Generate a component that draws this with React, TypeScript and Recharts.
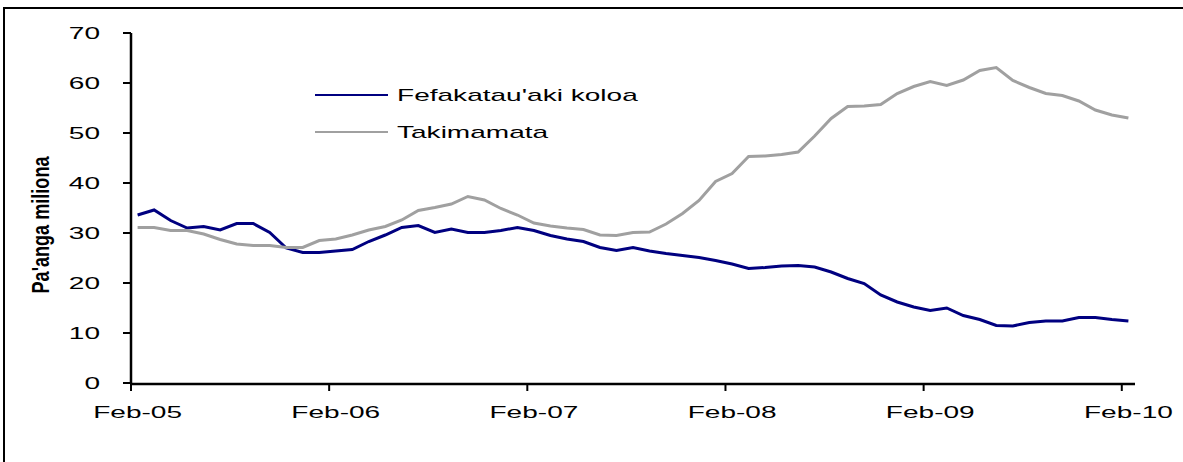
import { LineChart, Line, XAxis, YAxis } from "recharts";

// monthly values, Feb-05 .. Feb-10 (pa'anga, millions)
const fefakatau = [
  33.6, 34.6, 32.5, 31.0, 31.3, 30.6, 31.9, 31.9, 30.1, 27.0, 26.1, 26.1,
  26.4, 26.7, 28.3, 29.6, 31.1, 31.5, 30.1, 30.8, 30.1, 30.1, 30.5, 31.1,
  30.5, 29.5, 28.8, 28.3, 27.1, 26.5, 27.1, 26.4, 25.9, 25.5, 25.1, 24.5,
  23.8, 22.9, 23.1, 23.4, 23.5, 23.2, 22.2, 20.9, 19.9, 17.6, 16.2, 15.2,
  14.5, 15.0, 13.5, 12.7, 11.5, 11.4, 12.1, 12.4, 12.4, 13.1, 13.1, 12.7,
  12.4,
];

const takimamata = [
  31.1, 31.1, 30.5, 30.5, 29.8, 28.7, 27.8, 27.5, 27.5, 27.1, 27.1, 28.5,
  28.8, 29.6, 30.6, 31.3, 32.6, 34.5, 35.1, 35.8, 37.3, 36.6, 34.9, 33.6,
  32.0, 31.4, 31.0, 30.7, 29.6, 29.5, 30.1, 30.2, 31.8, 33.9, 36.5, 40.3,
  41.9, 45.3, 45.4, 45.7, 46.2, 49.4, 52.9, 55.3, 55.4, 55.7, 57.9, 59.3,
  60.3, 59.5, 60.6, 62.5, 63.1, 60.5, 59.1, 57.9, 57.5, 56.4, 54.6, 53.6,
  53.0,
];

const xLabels = ["Feb-05", "Feb-06", "Feb-07", "Feb-08", "Feb-09", "Feb-10"];
const yTicks = [0, 10, 20, 30, 40, 50, 60, 70];

const series = [
  { key: "fef", name: "Fefakatau'aki koloa", color: "#000080" },
  { key: "taki", name: "Takimamata", color: "#a0a0a0" },
];

const data = fefakatau.map((v, i) => ({ m: i, fef: v, taki: takimamata[i] }));
const labelTicks = xLabels.map((_, i) => i * 12);
// tick marks sit between months, labels on the month itself
const markTicks = labelTicks.map((t) => t - 0.4);
const xDomain = [-0.4, 60.4];

const FONT = "'Liberation Sans', Arial, sans-serif";
const STRETCH = 1.65;

function WideText({ x, y, anchor, children }: any) {
  return (
    <g transform={`translate(${x},${y}) scale(${STRETCH},1)`}>
      <text x={0} y={0} textAnchor={anchor} fontFamily={FONT} fontSize={17} fill="#000">
        {children}
      </text>
    </g>
  );
}

function YTick({ x, y, payload }: any) {
  return (
    <WideText x={x} y={y + 6} anchor="end">
      {payload.value}
    </WideText>
  );
}

function XTick({ x, y, payload }: any) {
  const idx = labelTicks.indexOf(payload.value);
  return (
    <WideText x={x} y={y} anchor="middle">
      {xLabels[idx]}
    </WideText>
  );
}

export default function App() {
  return (
    <div
      style={{
        position: "fixed",
        left: 0,
        top: 0,
        width: 1183,
        height: 462,
        overflow: "hidden",
        background: "#fff",
      }}
    >
      <div style={{ position: "absolute", left: 0, top: 0 }}>
        <LineChart
          width={1183}
          height={462}
          data={data}
          margin={{ top: 33, right: 48, bottom: 77, left: 0 }}
        >
          <YAxis
            type="number"
            domain={[0, 70]}
            ticks={yTicks}
            interval={0}
            width={131}
            tickSize={8}
            tickMargin={23}
            axisLine={{ stroke: "#000", strokeWidth: 2.5 }}
            tickLine={{ stroke: "#000", strokeWidth: 2 }}
            tick={(p: any) => <YTick {...p} />}
          />
          <XAxis
            xAxisId="marks"
            type="number"
            dataKey="m"
            domain={xDomain}
            ticks={markTicks}
            interval={0}
            height={1}
            tickSize={7}
            tickFormatter={() => ""}
            axisLine={{ stroke: "#000", strokeWidth: 2.5 }}
            tickLine={{ stroke: "#000", strokeWidth: 2 }}
          />
          <XAxis
            xAxisId="lab"
            type="number"
            dataKey="m"
            domain={xDomain}
            ticks={labelTicks}
            interval={0}
            height={1}
            tickSize={0}
            tickMargin={35}
            axisLine={false}
            tickLine={false}
            tick={(p: any) => <XTick {...p} />}
          />
          {series.map((s) => (
            <Line
              key={s.key}
              xAxisId="lab"
              type="linear"
              dataKey={s.key}
              name={s.name}
              stroke={s.color}
              strokeWidth={3}
              dot={false}
              isAnimationActive={false}
            />
          ))}
        </LineChart>
      </div>
      <svg
        width={1183}
        height={462}
        style={{ position: "absolute", left: 0, top: 0, pointerEvents: "none" }}
      >
        {/* outer frame: only the top and left edges fall inside the picture */}
        <path d="M4 462 V8 H1183" fill="none" stroke="#000" strokeWidth={2} />
        <text
          transform="translate(49,225) rotate(-90)"
          textAnchor="middle"
          fontFamily="'Liberation Sans Narrow', 'Liberation Sans', Arial, sans-serif"
          fontWeight="bold"
          fontSize={24}
          textLength={137}
          lengthAdjust="spacingAndGlyphs"
          fill="#000"
        >
          Pa'anga miliona
        </text>
        {series.map((s, i) => (
          <g key={s.key} transform={`translate(315,${95 + i * 37})`}>
            <line x1={0} y1={0} x2={73} y2={0} stroke={s.color} strokeWidth={2} />
            <WideText x={82} y={6} anchor="start">
              {s.name}
            </WideText>
          </g>
        ))}
      </svg>
    </div>
  );
}
